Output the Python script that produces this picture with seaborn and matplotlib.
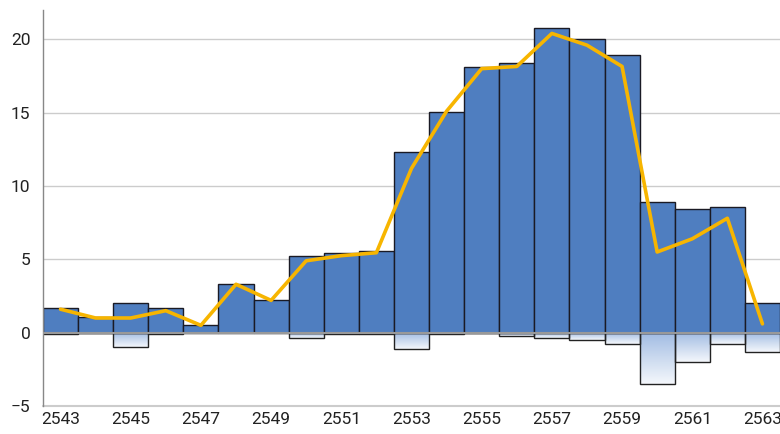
import numpy as np
import pandas as pd
import matplotlib
matplotlib.use("Agg")
import matplotlib.pyplot as plt
from matplotlib.colors import LinearSegmentedColormap
import seaborn as sns

years = [str(y) for y in range(2543, 2564)]
positive = [1.7, 1.1, 2.0, 1.7, 0.55, 3.3, 2.25, 5.2, 5.4, 5.6, 12.3,
            15.05, 18.1, 18.4, 20.8, 20.0, 18.9, 8.9, 8.4, 8.6, 2.0]
negative = [-0.12, -0.05, -1.0, -0.12, 0.0, 0.0, 0.0, -0.35, -0.1, -0.1, -1.1,
            -0.1, -0.05, -0.2, -0.35, -0.5, -0.8, -3.5, -2.0, -0.8, -1.35]
trend = [1.6, 1.0, 1.0, 1.5, 0.5, 3.3, 2.2, 4.9, 5.25, 5.45, 11.2,
         15.1, 18.0, 18.15, 20.4, 19.6, 18.15, 5.5, 6.4, 7.8, 0.6]

df = pd.DataFrame({"year": years, "pos": positive, "neg": negative, "trend": trend})

sns.set_style("white")
plt.rcParams["font.family"] = ["Roboto", "DejaVu Sans"]

fig = plt.figure(figsize=(7.8, 4.34), dpi=100)
ax = fig.add_axes([0.0551, 0.0645, 0.9449, 0.9125])

# negative bars with a vertical gradient fill
sns.barplot(data=df, x="year", y="neg", width=1.0, facecolor="none",
            edgecolor="#222222", linewidth=1.0, ax=ax, zorder=2)
neg_bars = list(ax.patches)
cmap = LinearSegmentedColormap.from_list("negfade", ["#f4f7fc", "#cbdaef", "#a0bbe3"])
grad = np.linspace(0, 1, 100).reshape(-1, 1)
for p in neg_bars:
    h = p.get_height()
    if h == 0:
        p.set_visible(False)
        continue
    x0 = p.get_x()
    w = p.get_width()
    y0 = p.get_y()
    im = ax.imshow(grad, cmap=cmap, aspect="auto", origin="lower",
                   extent=[x0, x0 + w, y0 + h, y0], zorder=1.5)
    im.set_clip_path(p)

# positive bars
sns.barplot(data=df, x="year", y="pos", width=1.0, color="#4f7ec0",
            saturation=1, edgecolor="#1a1a24", linewidth=1.0, ax=ax, zorder=2)

ax.axhline(0, color="#999999", lw=1.5, zorder=3)
ax.axhline(-5, color="#cccccc", lw=1.5, zorder=1, clip_on=False)

sns.lineplot(x=np.arange(len(years)), y=df["trend"], color="#f7b500",
             lw=2.6, ax=ax, zorder=4)

ax.set_xlim(-0.5, len(years) - 0.5)
ax.set_ylim(-5, 22)
ax.set_yticks([-5, 0, 5, 10, 15, 20])
ax.set_yticklabels(["\u22125", "0", "5", "10", "15", "20"])
ax.set_xticks(range(0, len(years), 2))
ax.set_xticklabels(years[::2])
ax.set_xlabel("")
ax.set_ylabel("")
ax.tick_params(axis="both", length=0, labelsize=12.5, labelcolor="#222222")
ax.tick_params(axis="x", pad=4)
ax.tick_params(axis="y", pad=9)
ax.yaxis.grid(True, color="#cccccc", lw=1)
ax.set_axisbelow(True)
for s in ["top", "right", "bottom"]:
    ax.spines[s].set_visible(False)
ax.spines["left"].set_color("#888888")
ax.spines["left"].set_linewidth(1)

fig.savefig("out.png", dpi=100)
